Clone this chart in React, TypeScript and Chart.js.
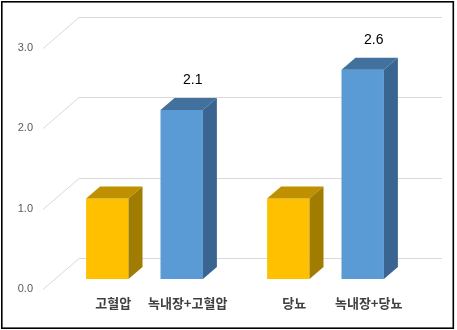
import React, { useEffect, useRef } from "react";
import { Chart, registerables } from "chart.js";

Chart.register(...registerables);

const groups = ["고혈압 그룹", "당뇨 그룹"];
const barLabelsBase = ["고혈압", "당뇨"];
const barLabelsCombo = ["녹내장+고혈압", "녹내장+당뇨"];
const baseValues = [1.0, 1.0];
const comboValues = [2.1, 2.6];
const comboDataLabels = ["2.1", "2.6"];
const yTicks = [0, 1, 2, 3];

const YELLOW = { front: "#FFC000", top: "#BF9000", side: "#A07C00" };
const BLUE = { front: "#5B9BD5", top: "#41719C", side: "#3A6591" };

const DX = 14;
const DY = 12;

const threeD = {
  id: "threeD",
  beforeDraw(chart: any) {
    const { ctx, width, height } = chart;
    ctx.save();
    ctx.fillStyle = "#ffffff";
    ctx.fillRect(0, 0, width, height);
    ctx.restore();
  },
  beforeDatasetsDraw(chart: any) {
    const { ctx, chartArea, scales } = chart;
    const y = scales.y;
    ctx.save();
    ctx.strokeStyle = "#D9D9D9";
    ctx.lineWidth = 1;
    yTicks.forEach((v) => {
      const p = Math.round(y.getPixelForValue(v));
      ctx.beginPath();
      ctx.moveTo(chartArea.left - 11, p + 10.5);
      ctx.lineTo(chartArea.left + 25, p - 20.5);
      ctx.lineTo(chartArea.right + 26, p - 20.5);
      ctx.stroke();
    });
    ctx.restore();
  },
  afterDatasetsDraw(chart: any) {
    const { ctx } = chart;
    ctx.save();
    chart.data.datasets.forEach((ds: any, di: number) => {
      const meta = chart.getDatasetMeta(di);
      const col = di === 0 ? YELLOW : BLUE;
      meta.data.forEach((bar: any, i: number) => {
        const { x, y, base, width } = bar.getProps(["x", "y", "base", "width"], true);
        const l = x - width / 2;
        const r = x + width / 2;
        // top face
        ctx.fillStyle = col.top;
        ctx.beginPath();
        ctx.moveTo(l, y);
        ctx.lineTo(l + DX, y - DY);
        ctx.lineTo(r + DX, y - DY);
        ctx.lineTo(r, y);
        ctx.closePath();
        ctx.fill();
        // side face
        ctx.fillStyle = col.side;
        ctx.beginPath();
        ctx.moveTo(r, y);
        ctx.lineTo(r + DX, y - DY);
        ctx.lineTo(r + DX, base - DY);
        ctx.lineTo(r, base);
        ctx.closePath();
        ctx.fill();
        // category label under the bar
        ctx.fillStyle = "#404040";
        ctx.font = "bold 13px 'Noto Sans CJK KR', 'Noto Sans', sans-serif";
        ctx.textAlign = "center";
        ctx.textBaseline = "middle";
        const lbl = di === 0 ? barLabelsBase[i] : barLabelsCombo[i];
        ctx.fillText(lbl, x + 6, base + 24);
        // data label
        if (di === 1) {
          ctx.fillStyle = "#000000";
          ctx.font = "14px 'Liberation Sans', Arial, sans-serif";
          ctx.fillText(comboDataLabels[i], x + 11, y - 30);
        }
      });
    });
    ctx.restore();
  },
  afterDraw(chart: any) {
    const { ctx } = chart;
    ctx.save();
    ctx.strokeStyle = "#000000";
    ctx.lineWidth = 1.6;
    ctx.strokeRect(1.8, 1.8, 451.5, 326.4);
    ctx.restore();
  },
};

export default function App() {
  const ref = useRef<HTMLCanvasElement | null>(null);
  useEffect(() => {
    document.body.style.margin = "0";
    if (!ref.current) return;
    const chart = new Chart(ref.current, {
      type: "bar",
      data: {
        labels: groups,
        datasets: [
          {
            data: baseValues,
            backgroundColor: YELLOW.front,
            borderWidth: 0,
            categoryPercentage: 0.822,
            barPercentage: 0.57,
          },
          {
            data: comboValues,
            backgroundColor: BLUE.front,
            borderWidth: 0,
            categoryPercentage: 0.822,
            barPercentage: 0.57,
          },
        ],
      },
      options: {
        animation: false,
        responsive: false,
        maintainAspectRatio: false,
        layout: { padding: { left: 0, right: 41, top: 37.5, bottom: 51 } },
        plugins: {
          legend: { display: false },
          tooltip: { enabled: false },
        },
        scales: {
          x: { display: false },
          y: {
            min: 0,
            max: 3,
            grid: { display: false, drawTicks: false },
            border: { display: false },
            ticks: {
              stepSize: 1,
              padding: 21,
              labelOffset: 10,
              color: "#595959",
              font: { size: 11, family: "'Liberation Sans', Arial, sans-serif" },
              callback: (v: any) => Number(v).toFixed(1),
            },
            afterFit: (s: any) => {
              s.width = 54;
            },
          },
        },
      },
      plugins: [threeD],
    });
    return () => chart.destroy();
  }, []);
  return (
    <div style={{ width: 457, height: 330 }}>
      <canvas ref={ref} width={457} height={330} style={{ display: "block" }} />
    </div>
  );
}
